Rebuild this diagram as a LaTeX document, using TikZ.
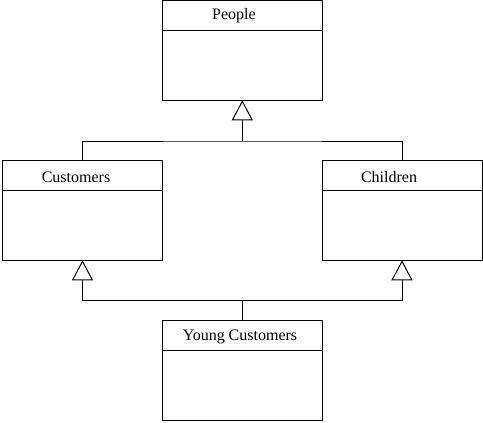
\documentclass[tikz,border=0pt]{standalone}
\usepackage{fontspec}
\setmainfont{Liberation Serif}
\usetikzlibrary{arrows.meta}
\begin{document}
\begin{tikzpicture}[x=1pt,y=-1pt,line width=1pt,
  cls/.style={draw,rectangle,minimum width=160pt,minimum height=100pt,inner sep=0pt,outer sep=0pt},
  lbl/.style={inner sep=0pt,font=\fontsize{16pt}{19pt}\selectfont},
  inh/.style={-{Triangle[open,length=20pt,width=21pt,line width=1pt]}}]
\useasboundingbox (0,0) rectangle (483,423);
\node[cls] (people) at (242.3,50.3) {};
\node[cls] (customers) at (82.5,210.3) {};
\node[cls] (children) at (402,210.3) {};
\node[cls] (young) at (242.3,370.3) {};
\foreach \n in {people,customers,children,young}
  \draw ([yshift=-30.5pt]\n.north west) -- ([yshift=-30.5pt]\n.north east);
\node[lbl] (tpeople) at (234,16) {People};
\node[lbl] (tcustomers) at (76,177) {Customers};
\node[lbl] (tchildren) at (389,177) {Children};
\node[lbl] (tyoung) at (240,337) {Young Customers};
\coordinate (bus1) at (242.3,141);
\coordinate (bus2) at (242.3,300);
\draw (customers.north) |- (bus1) -| (children.north);
\draw[inh] (bus1) -- (people.south);
\draw (young.north) -- (bus2);
\draw[inh] (bus2) -| (customers.south);
\draw[inh] (bus2) -| (children.south);
\end{tikzpicture}
\end{document}
